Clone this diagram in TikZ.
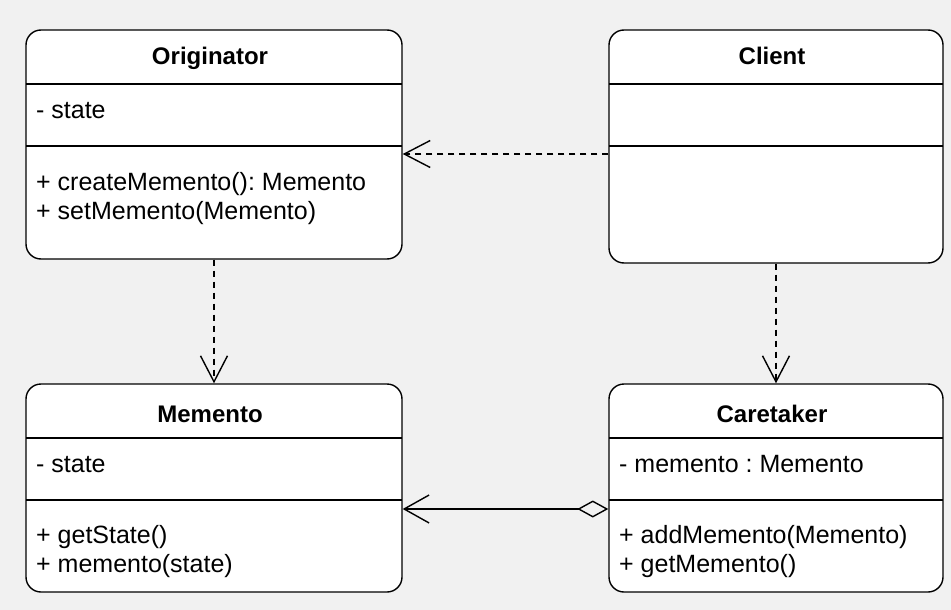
\documentclass[tikz,border=0pt]{standalone}
\usepackage{fontspec}
\setmainfont{Liberation Sans}
\usetikzlibrary{arrows.meta,calc}
\definecolor{bgc}{HTML}{F1F1F1}
\tikzset{
  classbox/.style={draw=black, fill=white, line width=1.4pt, rounded corners=15pt, inner sep=0pt},
  divider/.style={draw=black, line width=1.4pt},
  title/.style={anchor=base, inner sep=0pt, font=\fontsize{24}{29}\selectfont\bfseries},
  member/.style={anchor=base west, inner sep=0pt, font=\fontsize{25}{29}\selectfont\frenchspacing},
  dep/.style={draw=black, line width=1.4pt, dash pattern=on 6pt off 5pt, -{Straight Barb[length=26pt,width=27pt,line width=1.4pt]}},
  aggr/.style={draw=black, line width=1.4pt, {Diamond[open,length=31pt,width=17pt,line width=1.4pt]}-{Straight Barb[length=25pt,width=28pt,line width=1.4pt]}}
}
\begin{document}
\begin{tikzpicture}[x=1pt,y=-1pt]
\fill[bgc] (0,0) rectangle (951,610);
\useasboundingbox (0,0) rectangle (951,610);

% Originator
\node[classbox, minimum width=376pt, minimum height=229pt] (orig) at (214,144.5) {};
\draw[divider] (26,84) -- (402,84);
\draw[divider] (26,146) -- (402,146);
\node[title] (origT) at (210,65) {Originator};
\node[member] (origA) at (36,118) {- state};
\node[member] (origM1) at (36,190) {+ createMemento(): Memento};
\node[member] (origM2) at (36,219) {+ setMemento(Memento)};

% Client
\node[classbox, minimum width=334pt, minimum height=233pt] (client) at (776,146.5) {};
\draw[divider] (609,84) -- (943,84);
\draw[divider] (609,146) -- (943,146);
\node[title] (clientT) at (772,65) {Client};

% Memento
\node[classbox, minimum width=376pt, minimum height=208pt] (mem) at (214,488) {};
\draw[divider] (26,438) -- (402,438);
\draw[divider] (26,500) -- (402,500);
\node[title] (memT) at (210,422) {Memento};
\node[member] (memA) at (36,472) {- state};
\node[member] (memM1) at (36,543) {+ getState()};
\node[member] (memM2) at (36,572) {+ memento(state)};

% Caretaker
\node[classbox, minimum width=334pt, minimum height=208pt] (care) at (776,488) {};
\draw[divider] (609,438) -- (943,438);
\draw[divider] (609,500) -- (943,500);
\node[title] (careT) at (772,422) {Caretaker};
\node[member] (careA) at (619,472) {- memento : Memento};
\node[member] (careM1) at (619,543) {+ addMemento(Memento)};
\node[member] (careM2) at (619,572) {+ getMemento()};

% connectors
\draw[dep] ($(client.west)+(0,7.5)$) -- ($(orig.east)+(0,9.5)$);
\draw[dep] (orig.south) -- (mem.north);
\draw[dep] (client.south) -- (care.north);
\draw[aggr] ($(care.west)+(0,21)$) -- ($(mem.east)+(0,21)$);
\end{tikzpicture}
\end{document}
